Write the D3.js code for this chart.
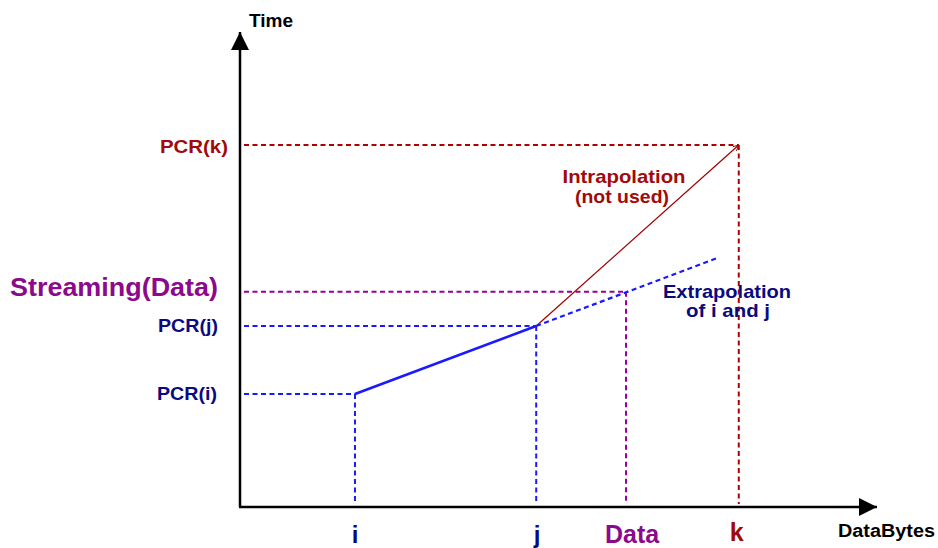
<!DOCTYPE html>
<html><head><meta charset="utf-8">
<script src="https://cdn.jsdelivr.net/npm/d3@7"></script>
<style>body{margin:0;background:#fff}svg{display:block}text{font-family:"Liberation Sans",Arial,sans-serif;font-weight:bold}</style>
</head><body><svg id="c" width="938" height="548"></svg>
<script>
// Data (abstract units, 0-100 on each axis)
const xPoints = [
  {name:"i", x:18.05, y:23.8, label:"PCR(i)", color:"#1a1aff", text:"#0a0a80"},
  {name:"j", x:46.5, y:38.1, label:"PCR(j)", color:"#1a1aff", text:"#0a0a80"},
  {name:"Data", x:60.6, y:45.3, label:"Streaming(Data)", color:"#990099", text:"#8b0a8b"},
  {name:"k", x:78.3, y:76.2, label:"PCR(k)", color:"#b00000", text:"#a00a0a"}
];
const measured = [{x:18.05,y:23.8},{x:46.5,y:38.1}];
const extrapolation = [{x:46.5,y:38.1},{x:74.9,y:52.4}];
const intrapolation = [{x:46.5,y:38.1},{x:78.3,y:76.2}];
const axisTitles = {x:"DataBytes", y:"Time"};

const svg = d3.select("#c");
const x = d3.scaleLinear().domain([0,100]).range([240,877]);
const y = d3.scaleLinear().domain([0,100]).range([507,32]);

const defs = svg.append("defs");
defs.append("marker").attr("id","ah").attr("viewBox","0 0 10 10").attr("refX",10).attr("refY",5)
  .attr("markerWidth",20).attr("markerHeight",18).attr("markerUnits","userSpaceOnUse").attr("orient","auto")
  .append("path").attr("d","M0,0L10,5L0,10Z").attr("fill","#000");
defs.append("marker").attr("id","ahs").attr("viewBox","0 0 10 10").attr("refX",10).attr("refY",5)
  .attr("markerWidth",7).attr("markerHeight",6).attr("markerUnits","userSpaceOnUse").attr("orient","auto")
  .append("path").attr("d","M0,0L10,5L0,10").attr("fill","none").attr("stroke","#a00000").attr("stroke-width",1.5);

// dashed guides
const dash = "5,3.5";
xPoints.forEach(p => {
  svg.append("line").attr("x1",x(0)+4).attr("x2",x(p.x)).attr("y1",y(p.y)).attr("y2",y(p.y))
    .attr("stroke",p.color).attr("stroke-width",2).attr("stroke-dasharray",dash);
  svg.append("line").attr("x1",x(p.x)).attr("x2",x(p.x)).attr("y1",y(p.y)).attr("y2",y(0)-3)
    .attr("stroke",p.color).attr("stroke-width",2).attr("stroke-dasharray",dash);
});

const line = d3.line().x(d=>x(d.x)).y(d=>y(d.y));
svg.append("path").attr("d",line(intrapolation)).attr("stroke","#a00000").attr("stroke-width",1.2).attr("fill","none").attr("marker-end","url(#ahs)");
svg.append("path").attr("d",line(extrapolation)).attr("stroke","#1a1aff").attr("stroke-width",2.2).attr("stroke-dasharray",dash).attr("fill","none");
svg.append("path").attr("d",line(measured)).attr("stroke","#1a1aff").attr("stroke-width",2.6).attr("fill","none");

// axes
svg.append("line").attr("x1",x(0)).attr("y1",y(0)).attr("x2",x(0)).attr("y2",y(100)).attr("stroke","#000").attr("stroke-width",2.5).attr("marker-end","url(#ah)");
svg.append("line").attr("x1",x(0)-1).attr("y1",y(0)).attr("x2",x(100)).attr("y2",y(0)).attr("stroke","#000").attr("stroke-width",2.5).attr("marker-end","url(#ah)");

function txt(str, px, py, size, anchor, color, width) {
  const t = svg.append("text").attr("x",px).attr("y",py).attr("font-size",size)
    .attr("text-anchor",anchor).attr("fill",color).text(str);
  if (width) t.attr("textLength",width).attr("lengthAdjust","spacingAndGlyphs");
  return t;
}

txt(axisTitles.y, 249, 27, 17.5, "start", "#000", 44);
txt(axisTitles.x, 935, 537, 17.5, "end", "#000", 97);

// y labels
const yLab = {i:{r:217,b:400,s:19,w:60}, j:{r:218,b:332,s:19,w:60}, Data:{r:218,b:296,s:25.5,w:208}, k:{r:228,b:153,s:19,w:68}};
const xLab = {i:{dx:0,b:543,s:24}, j:{dx:1,b:543,s:24}, Data:{dx:6,b:543,s:25}, k:{dx:-2,b:541,s:25}};
xPoints.forEach(p => {
  const a = yLab[p.name], b = xLab[p.name];
  txt(p.label, a.r, a.b, a.s, "end", p.text, a.w);
  txt(p.name, x(p.x)+b.dx, b.b, b.s, "middle", p.text);
});

// annotations
txt("Intrapolation", 624, 183, 19, "middle", "#a00a0a", 123);
txt("(not used)", 622, 203, 19, "middle", "#a00a0a", 94);
txt("Extrapolation", 727, 298, 19, "middle", "#0a0a80", 128);
txt("of i and j", 728, 317, 19, "middle", "#0a0a80", 84);
</script></body></html>
